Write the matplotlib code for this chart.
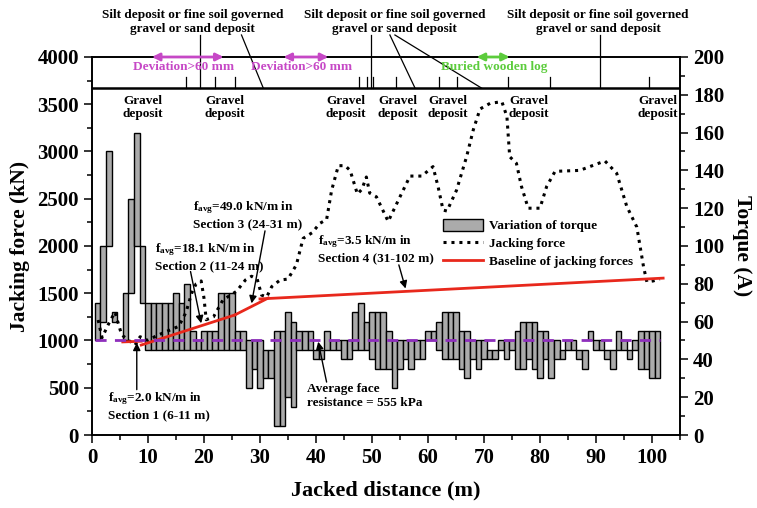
import numpy as np
import matplotlib
matplotlib.use('Agg')
import matplotlib.pyplot as plt
from matplotlib.patches import Patch
from matplotlib.lines import Line2D

plt.rcParams['font.family'] = ['Liberation Serif', 'DejaVu Serif']
plt.rcParams['font.weight'] = 'bold'
plt.rcParams['axes.labelweight'] = 'bold'
plt.rcParams['mathtext.fontset'] = 'custom'
plt.rcParams['mathtext.rm'] = 'Liberation Serif:bold'
plt.rcParams['mathtext.it'] = 'Liberation Serif:bold'
plt.rcParams['mathtext.bf'] = 'Liberation Serif:bold'

# torque ranges per metre of drive (A)
bar_pos = [1, 2, 3, 4, 6, 7, 8, 9, 10, 11, 12, 13, 14, 15, 16, 17, 18, 19, 20,
           21, 22, 23, 24, 25, 26, 27, 28, 29, 30, 31, 32, 33, 34, 35, 36, 37,
           38, 39, 40, 41, 42, 43, 44, 45, 46, 47, 48, 49, 50, 51, 52, 53, 54,
           55, 56, 57, 58, 59, 60, 61, 62, 63, 64, 65, 66, 67, 68, 69, 70, 71,
           72, 73, 74, 75, 76, 77, 78, 79, 80, 81, 82, 83, 84, 85, 86, 87, 88,
           89, 90, 91, 92, 93, 94, 95, 96, 97, 98, 99, 100, 101]
torque_low = [50, 60, 100, 60, 50, 75, 100, 70, 45, 45, 45, 45, 45, 45, 45, 45,
              45, 45, 45, 45, 45, 45, 45, 45, 45, 45, 25, 35, 25, 30, 30, 5, 5,
              20, 15, 45, 45, 45, 40, 40, 45, 45, 45, 40, 40, 45, 45, 45, 40,
              35, 35, 35, 25, 35, 40, 35, 40, 40, 50, 50, 45, 40, 40, 40, 35,
              30, 40, 35, 40, 40, 40, 45, 40, 45, 35, 35, 40, 35, 30, 40, 30,
              40, 40, 45, 45, 40, 35, 50, 45, 45, 40, 35, 45, 45, 40, 45, 35,
              35, 30, 30]
torque_high = [70, 100, 150, 65, 75, 125, 160, 100, 70, 70, 70, 70, 70, 75, 70,
               80, 55, 50, 55, 55, 55, 75, 75, 75, 55, 55, 50, 50, 50, 45, 45,
               55, 55, 65, 60, 55, 55, 55, 45, 45, 55, 50, 50, 50, 50, 65, 70,
               60, 65, 65, 65, 55, 50, 50, 50, 50, 50, 50, 55, 55, 60, 65, 65,
               65, 55, 55, 50, 50, 50, 45, 45, 50, 50, 50, 55, 60, 60, 60, 55,
               55, 50, 50, 45, 50, 50, 45, 45, 55, 50, 50, 45, 45, 55, 50, 45,
               50, 55, 55, 55, 55]

# measured jacking force (kN)
force_x = [1.1, 1.8, 3.0, 4.1, 5.3, 6.8, 7.7, 8.6, 10.0, 11.5, 13.5, 15.5,
           16.8, 17.8, 18.6, 19.5, 20.0, 20.4, 21.7, 23.4, 25.8, 27.4, 28.5,
           29.5, 30.3, 31.2, 32.1, 33.6, 35.0, 36.5, 37.7, 39.3, 40.7, 41.9,
           42.8, 44.0, 45.2, 46.1, 47.4, 48.2, 49.0, 49.6, 50.8, 52.9, 55.0,
           56.8, 58.9, 60.9, 61.8, 62.7, 63.4, 65.1, 66.9, 68.1, 69.3, 71.1,
           73.2, 74.1, 74.6, 75.8, 76.7, 77.9, 80.0, 81.2, 82.7, 87.1, 88.9,
           91.6, 93.7, 95.5, 97.3, 98.5, 99.1, 100.2, 101.4]
force_y = [1217, 1030, 1180, 1300, 1060, 990, 952, 1040, 1000, 1050, 1100,
           1150, 1300, 1500, 1600, 1630, 1450, 1220, 1250, 1430, 1520, 1640,
           1680, 1650, 1480, 1460, 1570, 1640, 1650, 1800, 2080, 2140, 2240,
           2280, 2590, 2850, 2850, 2800, 2550, 2600, 2730, 2560, 2520, 2260,
           2520, 2740, 2740, 2840, 2630, 2380, 2370, 2590, 2945, 3230, 3450,
           3510, 3527, 3370, 2945, 2875, 2630, 2400, 2400, 2630, 2790, 2800,
           2840, 2900, 2770, 2420, 2200, 1780, 1620, 1630, 1650]

# baseline of jacking force, one fitted segment per section
base_x = [[5.5, 8.8], [8.8, 25.5], [25.5, 31.5], [30.0, 102.0]]
base_y = [[985, 992], [952, 1270], [1270, 1450], [1440, 1660]]

face_force = 1000  # average face resistance level (kN)

fig = plt.figure(figsize=(7.57, 5.08), dpi=100)
ax_t = fig.add_axes([0.1215, 0.1437, 0.7767, 0.7441])
ax_f = ax_t.twinx()
ax_f.yaxis.tick_left()
ax_f.yaxis.set_label_position('left')
ax_t.yaxis.tick_right()
ax_t.yaxis.set_label_position('right')

lo = np.array(torque_low)
hi = np.array(torque_high)
ax_t.bar(bar_pos, hi - lo, bottom=lo, width=1.0, color='#ababab',
         edgecolor='black', linewidth=1.0)

ax_f.plot(force_x, force_y, color='black', ls=(0, (1, 1.6)), lw=2.2)
for bx, by in zip(base_x, base_y):
    ax_f.plot(bx, by, color='#e8281c', lw=2)
ax_f.plot([0.6, 101.5], [face_force, face_force], color='#8e2fbc',
          ls=(0, (4, 3)), lw=2)

ax_t.set_xlim(0, 105)
ax_t.set_ylim(0, 200)
ax_f.set_ylim(0, 4000)
ax_t.set_xticks(np.arange(0, 101, 10))
ax_t.set_xticks(np.arange(0, 106, 5), minor=True)
ax_t.set_yticks(np.arange(0, 201, 20))
ax_t.set_yticks(np.arange(0, 201, 10), minor=True)
ax_f.set_yticks(np.arange(0, 4001, 500))
ax_f.set_yticks(np.arange(0, 4001, 250), minor=True)
for a in (ax_t, ax_f):
    a.tick_params(which='major', direction='out', length=6, width=1.1,
                  labelsize=15)
    a.tick_params(which='minor', direction='out', length=3.5, width=1.1)
    for s in a.spines.values():
        s.set_linewidth(1.2)

ax_t.set_xlabel('Jacked distance (m)', fontsize=16, labelpad=9)
ax_f.set_ylabel('Jacking force (kN)', fontsize=15.5, labelpad=5)
ax_t.set_ylabel('Torque (A)', fontsize=15.5, rotation=270, labelpad=20)

# geological strip along the top
ax_f.axhline(3670, color='black', lw=1.8)
short_marks = [16.8, 22.0, 25.5, 47.6, 49.2, 50.2, 54.3, 62.0, 65.1, 74.3,
               81.8, 99.5]
for xm in short_marks:
    ax_f.plot([xm, xm], [3670, 3790], color='black', lw=0.9)

gravel_x = [9.1, 23.8, 45.3, 54.6, 63.5, 78.0, 101.0]
for gx in gravel_x:
    ax_f.text(gx, 3465, 'Gravel\ndeposit', ha='center', va='center',
              fontsize=9.5, linespacing=1.15)

silt_x = [18.0, 54.0, 90.4]
for sx in silt_x:
    ax_f.text(sx, 4370, 'Silt deposit or fine soil governed\ngravel or sand deposit',
              ha='center', va='center', fontsize=9.5, linespacing=1.15,
              clip_on=False)
leaders = [[19.3, 19.3], [26.7, 30.6], [49.8, 49.8], [53.2, 57.7],
           [54.1, 69.6], [90.8, 90.8]]
for lx in leaders:
    ax_f.plot([lx[0], lx[1]], [4233, 3670], color='black', lw=0.9,
              clip_on=False)

dev_spans = [[10.7, 23.5], [34.2, 42.2]]
for d in dev_spans:
    ax_f.annotate('', xy=(d[0], 4000), xytext=(d[1], 4000),
                  arrowprops=dict(arrowstyle='<|-|>', color='#c648c6', lw=2,
                                  mutation_scale=11, shrinkA=0, shrinkB=0),
                  annotation_clip=False)
    ax_f.text((d[0] + d[1]) / 2 - 0.8, 3890, 'Deviation>60 mm', ha='center',
              va='center', fontsize=9.5, color='#c648c6')
ax_f.annotate('', xy=(68.7, 4000), xytext=(74.6, 4000),
              arrowprops=dict(arrowstyle='<|-|>', color='#5ccc3c', lw=2,
                              mutation_scale=11, shrinkA=0, shrinkB=0),
              annotation_clip=False)
ax_f.text(71.8, 3890, 'Buried wooden log', ha='center', va='center',
          fontsize=9.5, color='#5ccc3c')

# section annotations
arrow = dict(arrowstyle='-|>', color='black', lw=1, mutation_scale=11,
             shrinkA=0, shrinkB=0)
ax_f.text(2.9, 307, 'f$_{avg}$=2.0 kN/m in\nSection 1 (6-11 m)',
          fontsize=9.5, ha='left', va='center', linespacing=1.25)
ax_f.annotate('', xy=(8.0, 975), xytext=(8.0, 480), arrowprops=arrow)
ax_f.text(11.3, 1890, 'f$_{avg}$=18.1 kN/m in\nSection 2 (11-24 m)',
          fontsize=9.5, ha='left', va='center', linespacing=1.25)
ax_f.annotate('', xy=(19.5, 1182), xytext=(17.6, 1730), arrowprops=arrow)
ax_f.text(18.0, 2335, 'f$_{avg}$=49.0 kN/m in\nSection 3 (24-31 m)',
          fontsize=9.5, ha='left', va='center', linespacing=1.25)
ax_f.annotate('', xy=(28.5, 1393), xytext=(30.9, 2160), arrowprops=arrow)
ax_f.text(40.3, 1975, 'f$_{avg}$=3.5 kN/m in\nSection 4 (31-102 m)',
          fontsize=9.5, ha='left', va='center', linespacing=1.25)
ax_f.annotate('', xy=(56.0, 1550), xytext=(54.8, 1800), arrowprops=arrow)
ax_f.text(38.4, 415, 'Average face\nresistance = 555 kPa', fontsize=9.5,
          ha='left', va='center', linespacing=1.25)
ax_f.annotate('', xy=(40.4, 987), xytext=(41.9, 560), arrowprops=arrow)

handles = [Patch(facecolor='#ababab', edgecolor='black', linewidth=1.0),
           Line2D([], [], color='black', ls=(0, (1, 1.6)), lw=2.2),
           Line2D([], [], color='#e8281c', lw=2)]
labels = ['Variation of torque', 'Jacking force', 'Baseline of jacking forces']
ax_f.legend(handles, labels, loc='upper left', bbox_to_anchor=(0.597, 0.572),
            frameon=False, fontsize=9.5, handlelength=3.0, handleheight=1.0,
            handletextpad=0.5, labelspacing=0.35, borderpad=0, borderaxespad=0)

fig.savefig('out.png', dpi=100)
